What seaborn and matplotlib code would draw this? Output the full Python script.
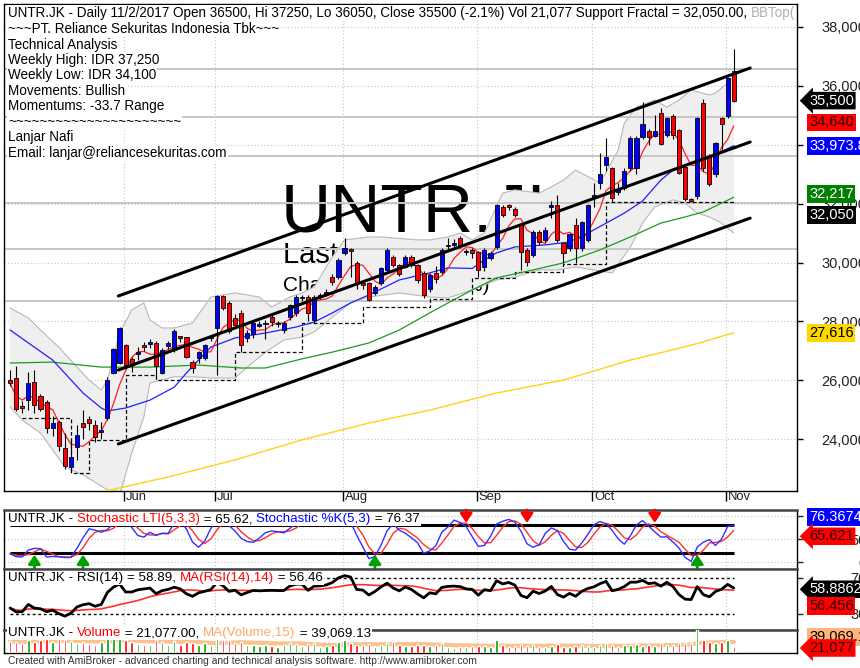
import numpy as np
import pandas as pd
import matplotlib
matplotlib.use("Agg")
import matplotlib.pyplot as plt
import matplotlib.transforms as mtransforms
import seaborn as sns

sns.set_theme(style="white")
plt.rcParams['font.family'] = ['Liberation Sans', 'DejaVu Sans']

# ---------------- data ----------------
month_idx = [19, 34, 55, 77, 96, 118]
month_labels = ["Jun", "Jul", "Aug", "Sep", "Oct", "Nov"]
price_ticks = [24000, 26000, 28000, 30000, 32000, 34000, 36000, 38000]

opens = [26000, 26080, 25130, 25330, 25940, 25470, 25270, 24380, 24590, 23700,
         23060, 23740, 24550, 24690, 24480, 24250, 24720, 26250, 26590, 27200,
         26730, 26900, 27200, 27250, 27270, 26250, 27170, 27030, 27470, 27470,
         26620, 26760, 26760, 27430, 27780, 28870, 28630, 28120, 28290, 27440,
         27570, 27850, 27900, 28150, 27900, 27710, 28150, 28300, 28800, 28830,
         28050, 28850, 28950, 29510, 29510, 30330, 30460, 29990, 29300, 29310,
         28970, 29310, 29750, 30190, 29920, 29850, 30190, 29920, 29650, 29100,
         29650, 29680, 30550, 30600, 30830, 30360, 30430, 30360, 29850, 30160,
         30530, 31890, 31950, 31820, 31280, 30430, 30260, 31040, 30770, 31900,
         31950, 30660, 30500, 31280, 30500, 30770, 32200, 32700, 33310, 33210,
         32400, 32530, 33210, 33210, 34270, 34470, 34300, 35080, 34330, 34980,
         34500, 33250, 32150, 32260, 35420, 33620, 33010, 34910, 34980, 36500]
highs = [26350, 26500, 25300, 26300, 26350, 25550, 25350, 24800, 24650, 24200,
         24000, 24500, 25000, 24800, 24650, 24600, 26100, 27100, 27800, 27250,
         26800, 27150, 27300, 27400, 27350, 27100, 27350, 27750, 27480, 27480,
         26700, 27000, 27250, 27550, 28900, 28900, 28700, 28250, 28400, 27700,
         28000, 28000, 28050, 28300, 28000, 28000, 28600, 28900, 28900, 28900,
         28900, 28950, 29100, 29600, 30150, 30830, 30500, 30050, 29400, 29350,
         29250, 29850, 30500, 30250, 29950, 30250, 30250, 29950, 29700, 29650,
         29900, 30500, 30850, 30800, 30900, 30450, 30500, 30400, 30500, 30400,
         32000, 31950, 32000, 31900, 31350, 30500, 31100, 31100, 31200, 32100,
         32300, 30700, 31000, 31500, 31400, 32000, 32700, 33720, 34230, 33250,
         32700, 33200, 34300, 34300, 35450, 34550, 35000, 35250, 34950, 35050,
         34550, 33300, 32200, 34950, 35550, 33700, 34100, 34950, 36300, 37250]
lows = [25800, 24950, 24900, 25000, 24900, 24950, 24200, 24100, 23600, 23000,
        22890, 23300, 24000, 24300, 23900, 24000, 24650, 26200, 26550, 26400,
        26300, 26700, 27000, 27100, 26150, 26200, 27050, 26950, 27300, 26750,
        26250, 26600, 26700, 27350, 26180, 28400, 27600, 27850, 26950, 27300,
        27450, 27800, 27400, 27850, 27800, 27600, 28050, 28200, 28700, 28000,
        27950, 28750, 28850, 29250, 29450, 30250, 29500, 29100, 29100, 28700,
        28900, 29250, 29700, 29850, 29550, 29800, 29850, 29300, 28800, 29000,
        29300, 29600, 30400, 30450, 30500, 30250, 30150, 29500, 29700, 30100,
        30450, 31550, 31800, 31550, 29750, 29900, 30200, 30600, 30700, 31500,
        30700, 30000, 30400, 30000, 30400, 30700, 31900, 32500, 33100, 32050,
        32300, 32450, 33100, 33000, 34200, 34000, 34250, 34000, 34250, 34200,
        33000, 32100, 32050, 32150, 33100, 32600, 32900, 33800, 34900, 35450]
closes = [25900, 25030, 25060, 25910, 25160, 25030, 24380, 24550, 23770, 23090,
          23400, 24140, 24420, 24550, 24080, 24300, 26010, 27070, 27780, 26520,
          26520, 26960, 27130, 27300, 26490, 27030, 27270, 27680, 27450, 26790,
          26420, 26960, 27200, 27470, 28870, 28460, 27680, 27880, 27200, 27610,
          27950, 27900, 27950, 27980, 27950, 27950, 28560, 28830, 28830, 28290,
          28830, 28880, 29000, 29340, 30090, 30500, 30400, 29310, 29250, 28730,
          29170, 29820, 30430, 29920, 29610, 30190, 29920, 29410, 28900, 29580,
          29450, 30430, 30600, 30650, 30600, 30380, 30330, 29750, 30430, 30330,
          31950, 31620, 31890, 31620, 30360, 30020, 31040, 30700, 31110, 31950,
          30770, 30330, 30970, 30500, 31380, 31950, 32300, 33010, 33590, 32190,
          32500, 33110, 34230, 34230, 34710, 34270, 34470, 34030, 34910, 34330,
          33040, 32160, 32080, 34910, 33210, 32670, 34060, 34710, 36270, 35500]
volumes = [42000, 38000, 35000, 48000, 40000, 45000, 50000, 38000, 52000, 47000,
           44000, 36000, 40000, 33000, 30000, 38000, 55000, 58000, 60000, 46000,
           40000, 32000, 30000, 28000, 45000, 40000, 30000, 42000, 28000, 38000,
           35000, 30000, 36000, 28000, 55000, 45000, 48000, 35000, 40000, 30000,
           28000, 25000, 30000, 26000, 22000, 30000, 35000, 33000, 25000, 32000,
           36000, 22000, 24000, 30000, 40000, 45000, 35000, 30000, 28000, 32000,
           22000, 30000, 35000, 40000, 28000, 26000, 25000, 30000, 28000, 24000,
           28000, 36000, 20000, 18000, 22000, 20000, 24000, 26000, 25000, 22000,
           45000, 28000, 22000, 24000, 30000, 26000, 28000, 22000, 20000, 24000,
           32000, 22000, 20000, 24000, 28000, 26000, 20000, 30000, 34000, 28000,
           22000, 28000, 30000, 32000, 26000, 28000, 26000, 34000, 30000, 28000,
           34000, 36000, 35000, 110000, 48000, 38000, 34000, 38000, 46000, 21077]

# moving averages / bands (bar index, price)
ma20_idx = [0, 7, 12, 15, 16, 19, 23, 27, 29, 33, 37, 42, 47, 50, 53, 56, 59, 64, 69, 72,
            76, 78, 80, 83, 88, 92, 95, 99, 101, 104, 107, 109, 112, 115, 119]
ma20_val = [27710, 26690, 25570, 25060, 24960, 25060, 25330, 25770, 26250, 27130, 27440,
            27610, 27810, 27980, 28290, 28630, 28900, 29410, 29650, 29820, 29800, 30090,
            30330, 30530, 30600, 30700, 31000, 31450, 31680, 32090, 32800, 33140, 33380,
            33550, 33974]
bb_up_idx = [0, 3, 5, 8, 11, 13, 15, 16, 18, 20, 22, 23, 25, 27, 30, 33, 37, 41, 43, 46,
             48, 50, 53, 55, 59, 61, 67, 69, 72, 74, 76, 78, 81, 83, 87, 89, 91, 93, 97, 100,
             101, 103, 106, 108, 110, 112, 115, 116, 118, 119]
bb_up_val = [28460, 28120, 27710, 27130, 26450, 26010, 25670, 26010, 27610, 28390,
             28630, 28050, 27780, 27780, 27950, 28830, 28970, 28830, 28490, 28830,
             28970, 29170, 30190, 30770, 30870, 30870, 30770, 30770, 30870, 31000,
             30770, 31000, 32360, 32470, 32360, 32570, 32800, 33140, 32700, 33820,
             34740, 35280, 35520, 35280, 35520, 35860, 35690, 35760, 36100, 36300]
bb_lo_idx = [0, 2, 5, 7, 9, 12, 16, 18, 20, 22, 23, 27, 30, 33, 37, 39, 42, 45, 48, 50,
             53, 56, 59, 64, 69, 72, 76, 80, 83, 87, 90, 93, 99, 102, 104, 106, 109, 111,
             113, 115, 117, 119]
bb_lo_val = [25100, 24650, 24210, 23640, 23060, 22790, 22280, 22100, 23530, 24760,
             25910, 26120, 26120, 26080, 26080, 26450, 26960, 27370, 27470, 27640,
             28150, 28630, 28830, 28970, 28830, 28800, 29070, 29410, 29510, 29750,
             29750, 29850, 29650, 30530, 31340, 31890, 32130, 32020, 31680, 31550,
             31340, 31000]
ma50_idx = [0, 7, 15, 23, 31, 38, 42, 48, 53, 59, 64, 69, 72, 76, 80, 86, 91, 97, 102,
            107, 111, 114, 117, 119]
ma50_val = [26590, 26620, 26450, 26450, 26520, 26420, 26420, 26730, 26960, 27270, 27710,
            28290, 28630, 29070, 29480, 29750, 29990, 30430, 30870, 31340, 31550, 31720,
            32020, 32217]
ma200_idx = [15, 26, 37, 48, 59, 69, 80, 91, 102, 108, 113, 119]
ma200_val = [22210, 22720, 23300, 23980, 24550, 24990, 25570, 26010, 26690, 26990, 27250, 27616]

frac_idx = [2, 10, 13, 19, 24, 37, 48, 58, 69, 76, 83, 91, 98, 119]
frac_val = [24720, 22850, 23970, 26180, 26010, 26960, 27950, 28490, 28760, 29480, 29680,
            29950, 32050, 32050]
level_lines = [36574, 34944, 33620, 32023, 30460, 28695]

channel_x = [17.8, 121.7]
channel_upper = [28865, 36608]
channel_mid = [26350, 34095]
channel_lower = [23840, 31510]

buy_idx = [4, 12, 60, 113]
sell_idx = [75, 85, 106]

# ---------------- indicators derived from the price data ----------------
df = pd.DataFrame({"open": opens, "high": highs, "low": lows, "close": closes,
                   "volume": volumes})
df["idx"] = np.arange(len(df))
df["ma5"] = df["close"].rolling(5, min_periods=1).mean()
ll = df["low"].rolling(5, min_periods=1).min()
hh = df["high"].rolling(5, min_periods=1).max()
fast = 100 * (df["close"] - ll) / (hh - ll)
df["stk"] = fast.rolling(3, min_periods=1).mean()
df["std"] = df["stk"].rolling(3, min_periods=1).mean()

# Wilder RSI(14), seeded with the simple averages of the first 14 moves
cl = np.asarray(closes, dtype=float)
dlt = np.diff(cl)
gains = np.clip(dlt, 0, None)
losses = np.clip(-dlt, 0, None)
ag, al = gains[:14].mean(), losses[:14].mean()
rsi_vals = [100 - 100 / (1 + ag / al)]
for gk, lk in zip(gains, losses):
    ag = (ag * 13 + gk) / 14
    al = (al * 13 + lk) / 14
    rsi_vals.append(100 - 100 / (1 + ag / al))
df["rsi"] = rsi_vals
df["rsima"] = df["rsi"].rolling(14, min_periods=1).mean()
df["vma"] = df["volume"].rolling(15, min_periods=1).mean()

# ---------------- figure ----------------
W, H = 860, 668
fig = plt.figure(figsize=(W / 100, H / 100), dpi=100)
fig.patch.set_facecolor("white")
pix = mtransforms.Affine2D().scale(1.0 / W, -1.0 / H).translate(0, 1) + fig.transFigure


def rect(x0, y0, x1, y1):
    return [x0 / W, 1 - y1 / H, (x1 - x0) / W, (y1 - y0) / H]


ax = fig.add_axes(rect(4, 4, 797, 491))
ax_st = fig.add_axes(rect(4, 510, 797, 569))
ax_rsi = fig.add_axes(rect(4, 569, 797, 630))
ax_vol = fig.add_axes(rect(4, 630, 797, 653))
XMIN, XMAX = -1.0, 129.4
NLAST = len(df) - 1
for a in (ax, ax_st, ax_rsi, ax_vol):
    a.set_xlim(XMIN, XMAX)
    a.set_facecolor("white")
    for s in a.spines.values():
        s.set_color("black")
        s.set_linewidth(1.0)
    a.set_xticks([])
    a.set_yticks([])
for a in (ax_st, ax_rsi, ax_vol):
    a.spines["top"].set_color("#444444")
    a.spines["top"].set_linewidth(1.8)

GRID = dict(color="#c4c4c4", linestyle=(0, (1, 2)), linewidth=0.8)
month_pos = [m - 0.25 for m in month_idx]
FS_INFO = 9.75
FS_LEG = 9.6
FS_AX = 10.5

# ---- main price panel ----
ax.set_ylim(22243, 38781)
for p in price_ticks:
    ax.axhline(p, zorder=0.3, **GRID)
for m in month_pos:
    ax.axvline(m, zorder=0.3, **GRID)

# watermark text (behind the band)
ax.text(281, 232, "UNTR.JK", transform=pix, fontsize=50, color="black",
        va="baseline", ha="left", zorder=0.6)
ax.text(283, 263, "Last 35,500", transform=pix, fontsize=21, color="black",
        va="baseline", ha="left", zorder=0.6)
ax.text(283, 291, "Change : -750 (-2.1%)", transform=pix, fontsize=15, color="black",
        va="baseline", ha="left", zorder=0.6)

# Bollinger band
ax.fill(bb_up_idx + bb_lo_idx[::-1], bb_up_val + bb_lo_val[::-1],
        facecolor="#efefef", edgecolor="none", zorder=1)
ax.plot(bb_up_idx, bb_up_val, color="#b8b8b8", lw=0.8, zorder=1.1)
ax.plot(bb_lo_idx, bb_lo_val, color="#b8b8b8", lw=0.8, zorder=1.1)

ax.hlines(level_lines, XMIN, XMAX, colors="#c6c6c6", lw=1.4, zorder=1.5)
ax.step(frac_idx, frac_val, where="post", color="black", ls=(0, (3, 2)), lw=0.9, zorder=2)

sns.lineplot(x=ma200_idx, y=ma200_val, ax=ax, color="#ffd21a", lw=1.0, zorder=3)
sns.lineplot(x=ma50_idx, y=ma50_val, ax=ax, color="#1f9a1f", lw=0.9, zorder=3)
sns.lineplot(x=ma20_idx, y=ma20_val, ax=ax, color="#2020ff", lw=0.9, zorder=3)
sns.lineplot(data=df, x="idx", y="ma5", ax=ax, color="#ff2020", lw=0.9, zorder=3)

# candles
up = df["close"] >= df["open"]
body_lo = np.minimum(df["open"], df["close"])
body_h = np.maximum(np.abs(df["close"] - df["open"]), 40)
ax.vlines(df["idx"], df["low"], df["high"], color="black", lw=0.8, zorder=4)
ax.bar(df["idx"], body_h, bottom=body_lo, width=0.68,
       color=np.where(up, "#0000ff", "#ff0000"), edgecolor="black", linewidth=0.6, zorder=5)

# channel
for cv in (channel_upper, channel_mid, channel_lower):
    ax.plot(channel_x, cv, color="black", lw=2.2, solid_capstyle="round", zorder=6)

ax.set_ylabel("")
ax.set_xlabel("")

# right axis
ax.yaxis.tick_right()
ax.set_yticks(price_ticks)
ax.set_yticklabels([f"{v:,}" for v in price_ticks])
ax.tick_params(axis="y", right=True, left=False, length=4, width=1, pad=46,
               labelsize=FS_AX, labelcolor="#222222", color="black")
for lab in ax.get_yticklabels():
    lab.set_horizontalalignment("right")

ax.set_xticks(month_pos)
ax.set_xticklabels([])
ax.tick_params(axis="x", bottom=True, length=7, width=1, direction="out", color="black")
xtr = mtransforms.blended_transform_factory(ax.transData, ax.transAxes)
for m, lab in zip(month_pos, month_labels):
    ax.text(m + 0.3, -0.013, lab, transform=xtr, fontsize=9.4, va="center", ha="left",
            clip_on=False, color="#222222")


def side_label(a, y, text, fc, tc, arrow=False):
    tr = mtransforms.blended_transform_factory(a.transAxes, a.transData)
    style = "larrow,pad=0.12" if arrow else "square,pad=0.12"
    a.text(1 + 12 / 793, y, text, transform=tr, fontsize=FS_AX, color=tc, va="center",
           ha="left", bbox=dict(boxstyle=style, fc=fc, ec="none"), zorder=30, clip_on=False)


side_label(ax, 35500, "35,500", "black", "white", arrow=True)
side_label(ax, 34640 + 120, "34,640", "#ff0000", "#300000")
side_label(ax, 33974 - 10, "33,973.8", "#0000ff", "white")
side_label(ax, 32217 + 120, "32,217", "#008000", "white")
side_label(ax, 32050 - 440, "32,050", "black", "white")
side_label(ax, 27616, "27,616", "#ffd700", "black")


def rich_text(a, x, y, parts, fontsize=FS_LEG, zorder=20):
    bb = dict(boxstyle="square,pad=0.08", fc="white", ec="none")
    s, c = parts[0]
    t = a.text(x, y, s, transform=pix, color=c, fontsize=fontsize, va="center", ha="left",
               bbox=bb, zorder=zorder)
    for s, c in parts[1:]:
        t = a.annotate(s, xy=(1, 0), xycoords=t, va="bottom", ha="left", color=c,
                       fontsize=fontsize, bbox=bb, zorder=zorder, annotation_clip=False)
    return t


rich_text(ax, 8, 13, [("UNTR.JK - Daily 11/2/2017 Open 36500, Hi 37250, Lo 36050, Close 35500 "
                       "(-2.1%) Vol 21,077 Support Fractal = 32,050.00, ", "black"),
                      ("BBTop(", "#b0b0b0")], fontsize=FS_INFO)
info_lines = ["~~~PT. Reliance Sekuritas Indonesia Tbk~~~", "Technical Analysis",
              "Weekly High: IDR 37,250", "Weekly Low: IDR 34,100", "Movements: Bullish",
              "Momentums: -33.7 Range", "~" * 22, "Lanjar Nafi",
              "Email: lanjar@reliancesekuritas.com"]
for k, line in enumerate(info_lines):
    ax.text(8, 29.3 + 15.4 * k, line, transform=pix, fontsize=FS_INFO, color="black",
            va="center", ha="left", zorder=20,
            bbox=dict(boxstyle="square,pad=0.08", fc="white", ec="none"))

# ---- stochastic panel ----
ax_st.set_ylim(-15, 113)
for v in (0, 50, 100):
    ax_st.axhline(v, zorder=0.3, **GRID)
for m in month_pos:
    ax_st.axvline(m, zorder=0.3, **GRID)
ax_st.hlines([80, 20], 0, NLAST, colors="black", lw=2.2, zorder=3)
sns.lineplot(data=df, x="idx", y="std", ax=ax_st, color="#ff3030", lw=1.0, zorder=4)
sns.lineplot(data=df, x="idx", y="stk", ax=ax_st, color="#3030ff", lw=1.0, zorder=4)
for i in buy_idx:
    ax_st.annotate("", xy=(i, 16), xytext=(i, -14),
                   arrowprops=dict(arrowstyle="-|>,head_width=0.3,head_length=0.45",
                                   color="#00a000", lw=2.0, shrinkA=0, shrinkB=0),
                   annotation_clip=False, zorder=6)
for i in sell_idx:
    ax_st.annotate("", xy=(i, 85), xytext=(i, 113),
                   arrowprops=dict(arrowstyle="-|>,head_width=0.3,head_length=0.45",
                                   color="#ff0000", lw=2.0, shrinkA=0, shrinkB=0),
                   annotation_clip=False, zorder=6)
ax_st.yaxis.tick_right()
ax_st.set_yticks([0, 50, 100])
ax_st.set_yticklabels(["0", "50", "100"])
ax_st.tick_params(axis="y", right=True, left=False, length=4, width=1, pad=46,
                  labelsize=FS_AX, labelcolor="#222222")
for lab in ax_st.get_yticklabels():
    lab.set_horizontalalignment("right")
ax_st.set_xlabel("")
ax_st.set_ylabel("")
rich_text(ax_st, 8, 519, [("UNTR.JK - ", "black"), ("Stochastic LTI(5,3,3)", "#ff0000"),
                          (" = 65.62, ", "black"), ("Stochastic %K(5,3)", "#0000ff"),
                          (" = 76.37", "black")])
side_label(ax_st, 98, "76.3674", "#0000ff", "white")
side_label(ax_st, 56, "65.621", "#ff0000", "#300000", arrow=True)

# ---- RSI panel ----
ax_rsi.set_ylim(12.2, 80)
for m in month_pos:
    ax_rsi.axvline(m, zorder=0.3, **GRID)
ax_rsi.hlines([70, 30], 0, NLAST, colors="black", lw=1.0, linestyles=[(0, (2, 2))], zorder=2)
sns.lineplot(data=df, x="idx", y="rsima", ax=ax_rsi, color="#ff3030", lw=1.2, zorder=3)
sns.lineplot(data=df, x="idx", y="rsi", ax=ax_rsi, color="black", lw=2.0, zorder=4)
ax_rsi.yaxis.tick_right()
ax_rsi.set_yticks([30, 70])
ax_rsi.set_yticklabels(["30", "70"])
ax_rsi.tick_params(axis="y", right=True, left=False, length=4, width=1, pad=46,
                   labelsize=FS_AX, labelcolor="#222222")
for lab in ax_rsi.get_yticklabels():
    lab.set_horizontalalignment("right")
ax_rsi.set_xlabel("")
ax_rsi.set_ylabel("")
rich_text(ax_rsi, 8, 578, [("UNTR.JK - RSI(14) = 58.89, ", "black"),
                           ("MA(RSI(14),14)", "#ff0000"), (" = 56.46", "black")])
side_label(ax_rsi, 57.5, "58.8862", "black", "white", arrow=True)
side_label(ax_rsi, 39, "56.456", "#ff0000", "#300000")

# ---- volume panel ----
ax_vol.set_ylim(0, 82000)
for m in month_pos:
    ax_vol.axvline(m, zorder=0.3, **GRID)
ax_vol.bar(df["idx"], df["volume"], width=0.4,
           color=np.where(up, "#00a000", "#ff0000"), zorder=3)
sns.lineplot(data=df, x="idx", y="vma", ax=ax_vol, color="#ffc08c", lw=3.0, zorder=2)
ax_vol.set_xlabel("")
ax_vol.set_ylabel("")
rich_text(ax_vol, 8, 633, [("UNTR.JK - ", "black"), ("Volume", "#ff0000"),
                           (" = 21,077.00, ", "black"), ("MA(Volume,15)", "#ffa866"),
                           (" = 39,069.13", "black")])
side_label(ax_vol, 57000, "39,069.1", "#ffb47a", "black")
side_label(ax_vol, 17700, "21,077", "#ff0000", "#300000", arrow=True)

fig.text(8 / W, 1 - 661 / H, "Created with AmiBroker - advanced charting and technical "
         "analysis software. http://www.amibroker.com", fontsize=7.4, color="#333333",
         va="center", ha="left")

fig.savefig("out.png", dpi=100, facecolor="white")
